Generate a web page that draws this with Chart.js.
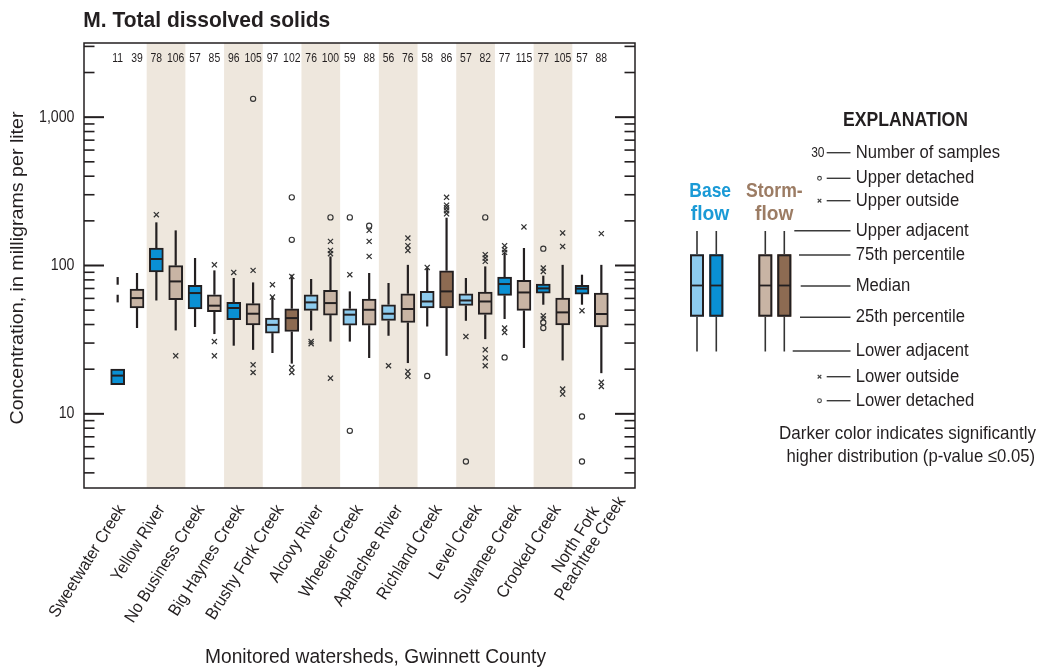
<!DOCTYPE html>
<html>
<head>
<meta charset="utf-8">
<script src="https://cdn.jsdelivr.net/npm/chart.js@4/dist/chart.umd.min.js"></script>
<style>
  html, body { margin: 0; padding: 0; background: #ffffff; }
  #wrap { width: 1039px; height: 671px; }
</style>
</head>
<body>
<div id="wrap"><canvas id="c" width="1039" height="671"></canvas></div>
<script>
// ---------------- DATA ----------------
const watersheds = ['Sweetwater Creek', 'Yellow River', 'No Business Creek', 'Big Haynes Creek',
  'Brushy Fork Creek', 'Alcovy River', 'Wheeler Creek', 'Apalachee River', 'Richland Creek',
  'Level Creek', 'Suwanee Creek', 'Crooked Creek', ['North Fork', 'Peachtree Creek']];

const baseCounts  = [11, 78, 57, 96, 97, 76, 59, 56, 58, 57, 77, 77, 57];
const stormCounts = [39, 106, 85, 105, 102, 100, 88, 76, 86, 82, 115, 105, 88];

// Base flow box statistics (milligrams per liter)
const baseLowerAdj = [null, 58.1, 38.5, 28.8, 25.7, 36.5, 30.7, 33.6, 38.8, 42.4, 43.6, 54.4, 54.4];
const baseQ1       = [15.7, 90.4, 50.9, 43.1, 35.0, 49.8, 39.6, 42.6, 51.7, 53.8, 62.9, 65.2, 64.2];
const baseMedian   = [18.1, 110.6, 65.2, 51.7, 39.8, 56.4, 46.6, 47.3, 57.2, 58.1, 75.0, 70.1, 69.8];
const baseQ3       = [20.0, 131.2, 73.4, 56.4, 44.2, 63.5, 51.1, 54.4, 66.9, 64.5, 83.6, 75.0, 73.4];
const baseUpperAdj = [null, 195.4, 112.3, 82.4, 61.9, 81.1, 66.9, 76.2, 96.2, 82.4, 121.4, 85.4, 86.7];

// Stormflow box statistics
const stormLowerAdj = [37.9, 36.5, 34.5, 27.0, 21.8, 30.7, 23.8, 22.0, 24.6, 31.9, 27.8, 22.9, 18.8];
const stormQ1       = [51.7, 58.8, 48.8, 39.8, 35.9, 46.3, 39.6, 41.3, 51.7, 46.8, 49.8, 39.8, 38.5];
const stormMedian   = [60.3, 78.1, 53.6, 47.3, 44.2, 55.8, 50.3, 50.9, 66.9, 57.2, 65.8, 48.3, 47.1];
const stormQ3       = [69.4, 99.7, 63.5, 55.3, 51.1, 67.9, 59.4, 64.5, 92.2, 66.3, 79.3, 60.3, 65.2];
const stormUpperAdj = [89.0, 172.5, 92.7, 76.9, 86.7, 115.2, 89.0, 101, 210, 98.6, 131.2, 101, 101];

// Outside values (x) and detached values (o)
const baseOutside = [[], [220], [], [89.8], [74.2, 61.3], [30.7, 29.7], [86.7], [21.1], [97],
  [33.2], [136, 127.8, 122.6, 37.9, 35.4], [96.2, 91.2, 45.8, 43.6], [49.6]];
const baseDetached = [[], [], [], [], [], [], [211, 7.68], [], [18.0], [4.77], [24.0],
  [129.8, 41.3, 37.9], [9.59, 4.77]];
const stormOutside = [[], [24.6], [101, 30.7, 24.6], [92.7, 21.4, 19.0], [84.4, 20.5, 19.0],
  [145.4, 126.4, 120, 17.4], [172.5, 145.4, 115.2], [153, 136, 126.4, 19.3, 17.9],
  [288, 255, 245, 234, 223], [118.3, 112.3, 106.6, 27.0, 23.8, 21.1], [181.9],
  [165.7, 134.5, 14.7, 13.6], [164, 16.3, 15.3]];
const stormDetached = [[], [], [], [1329], [288, 149], [211], [185.6], [], [], [211], [], [], []];

// Short vertical marks drawn above the Sweetwater Creek base-flow box
const baseMarks = [[[56.4, 63.5], [74.2, 83.6]], [], [], [], [], [], [], [], [], [], [], [], []];

// Darker colour = significantly higher distribution
const baseDark  = [1, 1, 1, 1, 0, 0, 0, 0, 0, 0, 1, 1, 1];
const stormDark = [0, 0, 0, 0, 1, 0, 0, 0, 1, 0, 0, 0, 0];

const yMajorTicks = [10, 100, 1000];
const yTickLabels = ['10', '100', '1,000'];

// ---------------- STYLE ----------------
const INK = '#231F20';
const BLUE_DARK = '#0A90D4';
const BLUE_LIGHT = '#8DCBEE';
const TAN_LIGHT = '#C8B4A4';
const BROWN_DARK = '#8D6B52';
const BAND = '#EEE7DD';
const FONT = '"Liberation Sans", Arial, Helvetica, sans-serif';
const OFF = 0.25;

function txt(ctx, s, x, y, o) {
  ctx.save();
  ctx.font = (o.weight || 'normal') + ' ' + o.size + 'px ' + FONT;
  ctx.fillStyle = o.color || INK;
  ctx.textAlign = o.align || 'left';
  ctx.textBaseline = o.baseline || 'middle';
  let sx = o.sx || 1;
  if (o.width) sx = o.width / ctx.measureText(s).width;
  ctx.translate(x, y);
  if (o.rot) ctx.rotate(o.rot);
  ctx.scale(sx, 1);
  ctx.fillText(s, 0, 0);
  ctx.restore();
}

function line(ctx, x1, y1, x2, y2, w, c) {
  ctx.beginPath();
  ctx.lineWidth = w; ctx.strokeStyle = c;
  ctx.moveTo(x1, y1); ctx.lineTo(x2, y2); ctx.stroke();
}

function xMark(ctx, x, y, r, c) {
  ctx.beginPath(); ctx.lineWidth = 1.2; ctx.strokeStyle = c;
  ctx.moveTo(x - r, y - r); ctx.lineTo(x + r, y + r);
  ctx.moveTo(x + r, y - r); ctx.lineTo(x - r, y + r); ctx.stroke();
}
function oMark(ctx, x, y, r, c) {
  ctx.beginPath(); ctx.lineWidth = 1.1; ctx.strokeStyle = c;
  ctx.arc(x, y, r, 0, Math.PI * 2); ctx.stroke();
}

const boxPlugin = {
  id: 'boxplot',
  beforeDatasetsDraw(chart) {
    const { ctx, chartArea: a, scales: { x, y } } = chart;
    ctx.save();
    // alternating bands
    ctx.fillStyle = BAND;
    watersheds.forEach((_, i) => {
      if (i % 2 === 1) {
        const l = x.getPixelForValue(i - 0.5), r = x.getPixelForValue(i + 0.5);
        ctx.fillRect(l, a.top, r - l, a.bottom - a.top);
      }
    });
    // whiskers
    const whisk = (cx, from, to) => {
      if (to == null) return;
      line(ctx, cx, y.getPixelForValue(from), cx, y.getPixelForValue(to), 2.2, INK);
    };
    watersheds.forEach((_, i) => {
      const bx = x.getPixelForValue(i - OFF), sx = x.getPixelForValue(i + OFF);
      whisk(bx, baseQ3[i], baseUpperAdj[i]);
      whisk(bx, baseQ1[i], baseLowerAdj[i]);
      whisk(sx, stormQ3[i], stormUpperAdj[i]);
      whisk(sx, stormQ1[i], stormLowerAdj[i]);
      baseMarks[i].forEach(seg => whisk(bx, seg[0], seg[1]));
    });
    ctx.restore();
  },
  afterDatasetsDraw(chart) {
    const { ctx, scales: { x, y } } = chart;
    ctx.save();
    const half = 6;
    watersheds.forEach((_, i) => {
      const bx = x.getPixelForValue(i - OFF), sx = x.getPixelForValue(i + OFF);
      const by = y.getPixelForValue(baseMedian[i]), sy = y.getPixelForValue(stormMedian[i]);
      line(ctx, bx - half, by, bx + half, by, 2, INK);
      line(ctx, sx - half, sy, sx + half, sy, 2, INK);
    });
    ctx.restore();
  },
  afterDraw(chart) {
    const { ctx, chartArea: a, scales: { x, y } } = chart;
    ctx.save();
    // plot frame
    ctx.lineWidth = 1.5; ctx.strokeStyle = INK;
    ctx.strokeRect(a.left, a.top, a.right - a.left, a.bottom - a.top);
    // tick marks (both sides, pointing inward)
    for (let e = 0; e <= 3; e++) {
      for (let m = 1; m <= 9; m++) {
        const v = m * Math.pow(10, e);
        if (v < y.min || v > y.max) continue;
        const py = y.getPixelForValue(v);
        const major = yMajorTicks.includes(v);
        const len = major ? 20 : 10.5;
        const w = major ? 2 : 1.6;
        line(ctx, a.left, py, a.left + len, py, w, INK);
        line(ctx, a.right, py, a.right - len, py, w, INK);
      }
    }
    // y tick labels
    yMajorTicks.forEach((v, k) => {
      txt(ctx, yTickLabels[k], 74.5, y.getPixelForValue(v), { size: 16.5, align: 'right', sx: 0.86 });
    });
    // counts on top
    watersheds.forEach((_, i) => {
      txt(ctx, String(baseCounts[i]), x.getPixelForValue(i - OFF), 58.7, { size: 13, align: 'center', sx: 0.8 });
      txt(ctx, String(stormCounts[i]), x.getPixelForValue(i + OFF), 58.7, { size: 13, align: 'center', sx: 0.8 });
    });
    // category labels (rotated)
    const ang = -58 * Math.PI / 180;
    const ux = Math.cos(ang), uy = Math.sin(ang);      // along baseline
    const px = -uy, py = ux;                            // perpendicular (down-right)
    ctx.font = '17px ' + FONT;
    watersheds.forEach((lab, i) => {
      if (Array.isArray(lab)) {
        const ax = x.getPixelForValue(i) - 4, ay = 505;
        const sxl = 0.93;
        const w0 = ctx.measureText(lab[0]).width * sxl;
        const cAlong = 1.8 - w0 / 2;
        lab.forEach((ln, k) => {
          const wk = ctx.measureText(ln).width * sxl;
          const along = cAlong + wk / 2;
          const perp = 8.5 + 17 * k;
          txt(ctx, ln, ax + ux * along + px * perp, ay + uy * along + py * perp,
            { size: 17, align: 'right', rot: ang, sx: sxl });
        });
      } else {
        const ax = x.getPixelForValue(i) - 5.5 + i * 0.9, ay = 506.5;
        txt(ctx, lab, ax, ay, { size: 17, align: 'right', rot: ang, sx: 0.93 });
      }
    });
    // axis titles
    txt(ctx, 'Concentration, in milligrams per liter', 18, 268,
      { size: 19, align: 'center', rot: -Math.PI / 2, width: 313 });
    txt(ctx, 'Monitored watersheds, Gwinnett County', 375.5, 657.5,
      { size: 20.5, align: 'center', width: 341 });
    // chart title
    txt(ctx, 'M. Total dissolved solids', 83.3, 26.7,
      { size: 22, weight: 'bold', baseline: 'alphabetic', width: 247 });

    // ---------------- EXPLANATION ----------------
    txt(ctx, 'EXPLANATION', 843, 120.5, { size: 19.5, weight: 'bold', width: 125 });
    txt(ctx, 'Base', 710.2, 196.7, { size: 21, weight: 'bold', align: 'center', baseline: 'alphabetic', width: 41.7, color: '#1A9AD6' });
    txt(ctx, 'flow', 710, 220.3, { size: 21, weight: 'bold', align: 'center', baseline: 'alphabetic', width: 38.6, color: '#1A9AD6' });
    txt(ctx, 'Storm-', 774.3, 196.7, { size: 21, weight: 'bold', align: 'center', baseline: 'alphabetic', width: 56.7, color: '#9C7C64' });
    txt(ctx, 'flow', 774.2, 220.3, { size: 21, weight: 'bold', align: 'center', baseline: 'alphabetic', width: 38.3, color: '#9C7C64' });

    // legend boxes
    const lb = [[690, BLUE_LIGHT], [709.3, BLUE_DARK], [758.3, TAN_LIGHT], [777.3, BROWN_DARK]];
    const lTop = 254.3, lBot = 316.7, lMed = 285.5, lWt = 231, lWb = 351.5, lW = 14;
    lb.forEach(([lx, col]) => {
      const cx = lx + lW / 2;
      line(ctx, cx, lWt, cx, lTop, 1.6, '#333');
      line(ctx, cx, lBot, cx, lWb, 1.6, '#333');
      ctx.fillStyle = col; ctx.fillRect(lx, lTop, lW, lBot - lTop);
      ctx.lineWidth = 2; ctx.strokeStyle = INK;
      ctx.strokeRect(lx + 1, lTop + 1, lW - 2, lBot - lTop - 2);
      line(ctx, lx + 1, lMed, lx + lW - 1, lMed, 1.8, INK);
    });

    const LG = '#3a3a3a';
    const tx = 855.7, lx2 = 850.5;
    const items = [
      ['Number of samples', 152.7, 826.7, 'n'],
      ['Upper detached', 178.3, 826.7, 'o'],
      ['Upper outside', 200.7, 826.7, 'x'],
      ['Upper adjacent', 230.7, 794.3, ''],
      ['75th percentile', 255, 799, ''],
      ['Median', 286, 800.7, ''],
      ['25th percentile', 317.3, 800, ''],
      ['Lower adjacent', 351, 792.7, ''],
      ['Lower outside', 376.7, 826.7, 'x'],
      ['Lower detached', 400.7, 826.7, 'o']
    ];
    items.forEach(([label, ly, x0, sym]) => {
      line(ctx, x0, ly, lx2, ly, 1.4, LG);
      txt(ctx, label, tx, ly, { size: 18, sx: 0.925 });
      if (sym === 'n') txt(ctx, '30', 824.5, ly, { size: 15, align: 'right', sx: 0.8 });
      if (sym === 'o') oMark(ctx, 819.5, ly, 1.9, '#444');
      if (sym === 'x') xMark(ctx, 819.5, ly, 1.8, '#444');
    });
    txt(ctx, 'Darker color indicates significantly', 1036, 434, { size: 18.5, align: 'right', width: 257 });
    txt(ctx, 'higher distribution (p-value \u22640.05)', 1035, 456.5, { size: 18.5, align: 'right', width: 248.5 });
    ctx.restore();
  }
};

// ---------------- CHART ----------------
const boxData = (q1, q3, sign) => watersheds.map((_, i) => ({ x: i + sign * OFF, y: [q1[i], q3[i]] }));
const ptData = (arr, sign) => arr.flatMap((vals, i) => vals.map(v => ({ x: i + sign * OFF, y: v })));

const datasets = [
  { type: 'scatter', label: 'Base outside', data: ptData(baseOutside, -1), pointStyle: 'crossRot',
    pointRadius: 3.6, borderColor: '#333', borderWidth: 1.25, backgroundColor: 'transparent', order: 1 },
  { type: 'scatter', label: 'Storm outside', data: ptData(stormOutside, 1), pointStyle: 'crossRot',
    pointRadius: 3.6, borderColor: '#333', borderWidth: 1.25, backgroundColor: 'transparent', order: 1 },
  { type: 'scatter', label: 'Base detached', data: ptData(baseDetached, -1), pointStyle: 'circle',
    pointRadius: 2.6, borderColor: '#333', borderWidth: 1.15, backgroundColor: 'rgba(255,255,255,0)', order: 1 },
  { type: 'scatter', label: 'Storm detached', data: ptData(stormDetached, 1), pointStyle: 'circle',
    pointRadius: 2.6, borderColor: '#333', borderWidth: 1.15, backgroundColor: 'rgba(255,255,255,0)', order: 1 },
  { type: 'bar', label: 'Base flow', data: boxData(baseQ1, baseQ3, -1),
    backgroundColor: baseDark.map(d => d ? BLUE_DARK : BLUE_LIGHT),
    borderColor: INK, borderWidth: 2, borderSkipped: false, barThickness: 14, grouped: false, order: 2 },
  { type: 'bar', label: 'Stormflow', data: boxData(stormQ1, stormQ3, 1),
    backgroundColor: stormDark.map(d => d ? BROWN_DARK : TAN_LIGHT),
    borderColor: INK, borderWidth: 2, borderSkipped: false, barThickness: 14, grouped: false, order: 2 }
];

new Chart(document.getElementById('c'), {
  type: 'bar',
  data: { datasets },
  options: {
    responsive: false,
    animation: false,
    devicePixelRatio: 1,
    layout: { padding: { left: 0, top: 43, right: 404, bottom: 0 } },
    plugins: { legend: { display: false }, tooltip: { enabled: false }, title: { display: false } },
    scales: {
      x: {
        type: 'linear', min: -1.12, max: 13.12, bounds: 'data', offset: false,
        grid: { display: false }, border: { display: false }, ticks: { display: false },
        afterFit: s => { s.height = 183; }
      },
      y: {
        type: 'logarithmic', min: Math.pow(10, 0.5), max: Math.pow(10, 3.5), bounds: 'data',
        grid: { display: false }, border: { display: false }, ticks: { display: false },
        afterFit: s => { s.width = 84; }
      }
    }
  },
  plugins: [boxPlugin]
});
</script>
</body>
</html>
